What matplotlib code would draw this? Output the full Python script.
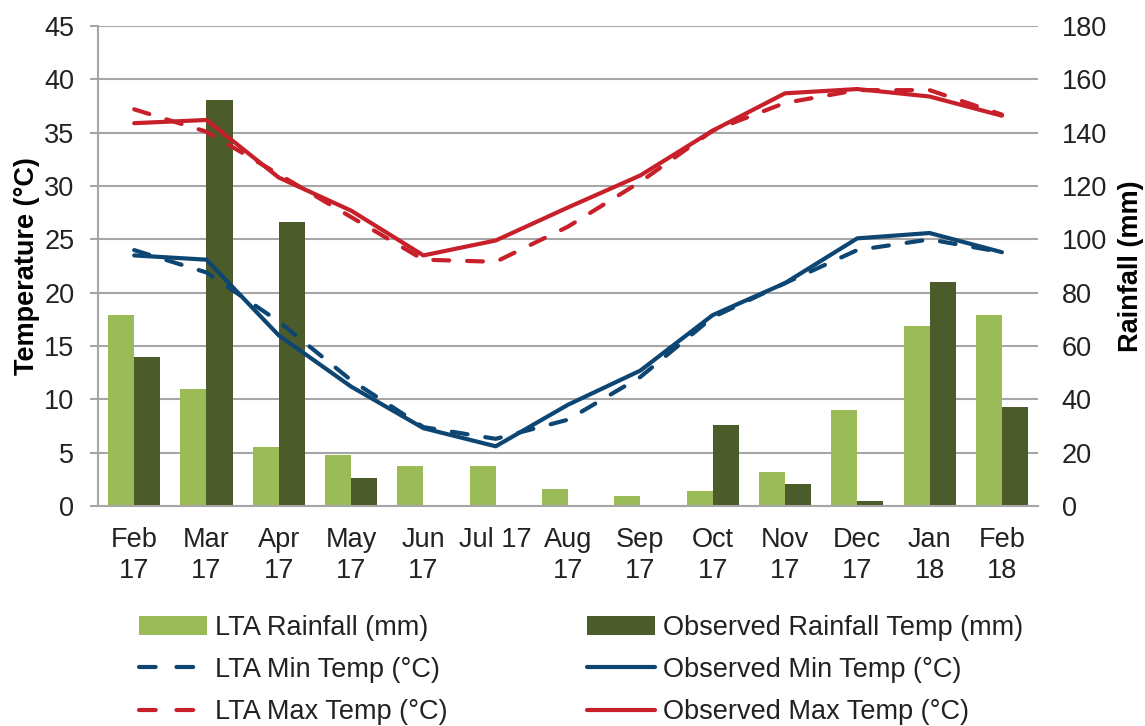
import numpy as np
import matplotlib
matplotlib.use("Agg")
from matplotlib import pyplot as plt
from matplotlib.lines import Line2D

plt.rcParams["font.family"] = ["Liberation Sans", "DejaVu Sans"]

# Dane
months = ["Feb\n17", "Mar\n17", "Apr\n17", "May\n17", "Jun\n17", "Jul 17", "Aug\n17",
          "Sep\n17", "Oct\n17", "Nov\n17", "Dec\n17", "Jan\n18", "Feb\n18"]
lta_rain = [71.5, 44, 22, 19.2, 15, 15.1, 6.4, 3.8, 5.6, 12.6, 36, 67.6, 71.5]
obs_rain = [56, 152.2, 106.6, 10.4, 0, 0, 0.3, 0.3, 30.5, 8.3, 1.7, 84, 37]
lta_min = [24.0, 21.9, 17.3, 11.8, 7.4, 6.3, 8.1, 12.1, 17.7, 20.9, 24.0, 25.0, 23.8]
obs_min = [23.5, 23.1, 16.0, 11.2, 7.3, 5.6, 9.5, 12.7, 17.9, 20.9, 25.1, 25.6, 23.8]
lta_max = [37.2, 35.1, 31.1, 27.1, 23.1, 22.9, 26.2, 30.4, 35.2, 37.8, 39.0, 39.0, 36.7]
obs_max = [35.9, 36.2, 30.8, 27.7, 23.5, 24.9, 28.0, 31.0, 35.2, 38.7, 39.1, 38.4, 36.6]

GREEN_LIGHT = "#9bbb59"
GREEN_DARK = "#4b5b2a"
RED = "#c8202a"
BLUE = "#0d4672"
GRID = "#a6a6a6"
TEXT = "#222222"
FS = 19.5

fig = plt.figure(figsize=(11.45, 7.26), dpi=100)
ax = fig.add_axes([0.0856, 0.303, 0.821, 0.661])
ax2 = ax.twinx()

x = np.arange(len(months))
w = 0.36

# Słupki opadów (prawa oś)
ax2.bar(x - w / 2, lta_rain, w, color=GREEN_LIGHT, label="LTA Rainfall (mm)", zorder=2)
ax2.bar(x + w / 2, obs_rain, w, color=GREEN_DARK, label="Observed Rainfall Temp (mm)", zorder=2)
ax2.set_ylim(0, 180)
ax2.set_yticks(np.arange(0, 181, 20))
ax2.yaxis.grid(True, color=GRID, linewidth=1.5, zorder=0)
ax2.set_axisbelow(True)
ax2.set_ylabel("Rainfall (mm)", fontsize=FS, fontweight="bold", labelpad=8)

# Linie temperatur (lewa oś) nad słupkami
ax.set_zorder(ax2.get_zorder() + 1)
ax.patch.set_visible(False)
dash = dict(linestyle=(0, (3.8, 4.3)), dash_capstyle="round", linewidth=3)
l1, = ax.plot(x, lta_min, color=BLUE, label="LTA Min Temp (°C)", **dash)
l2, = ax.plot(x, obs_min, color=BLUE, linewidth=3, solid_capstyle="round",
              label="Observed Min Temp (°C)")
l3, = ax.plot(x, lta_max, color=RED, label="LTA Max Temp (°C)", **dash)
l4, = ax.plot(x, obs_max, color=RED, linewidth=3, solid_capstyle="round",
              label="Observed Max Temp (°C)")
ax.set_ylim(0, 45)
ax.set_yticks(np.arange(0, 46, 5))
ax.set_xlim(-0.5, len(months) - 0.5)
ax.set_xticks(x)
ax.set_xticklabels(months, fontsize=FS, va="top", linespacing=1.25)
ax.set_ylabel("Temperature (°C)", fontsize=FS, fontweight="bold", labelpad=3)

for a in (ax, ax2):
    for s in a.spines.values():
        s.set_visible(False)
    a.tick_params(axis="y", labelsize=FS, colors=TEXT)
ax.spines["left"].set_visible(True)
ax.spines["left"].set_color(GRID)
ax.spines["left"].set_linewidth(1.5)
ax.spines["bottom"].set_visible(True)
ax.spines["bottom"].set_color(GRID)
ax.spines["bottom"].set_linewidth(1.5)
ax.tick_params(axis="y", length=6, width=1.5, color=GRID, labelcolor=TEXT, pad=11)
ax2.tick_params(axis="y", length=0, pad=17)
ax.tick_params(axis="x", length=0, pad=15, labelcolor=TEXT)

# Legenda: dwie kolumny, krótsze kreski w uchwytach linii przerywanych
h1, lab1 = ax2.get_legend_handles_labels()
leg_dash = dict(linestyle=(0, (4, 5)), dash_capstyle="round", linewidth=3)
lh1 = Line2D([], [], color=BLUE, **leg_dash)
lh3 = Line2D([], [], color=RED, **leg_dash)
handles = [h1[0], lh1, lh3, h1[1], l2, l4]
labels = [lab1[0], l1.get_label(), l3.get_label(), lab1[1], l2.get_label(), l4.get_label()]
fig.legend(handles, labels, ncol=2, loc="upper left", bbox_to_anchor=(0.11, 0.172),
           frameon=False, fontsize=FS, handlelength=2.5, handletextpad=0.3,
           columnspacing=5.15, labelspacing=0.6, borderpad=0, labelcolor=TEXT)

fig.savefig("out.png", dpi=100)
